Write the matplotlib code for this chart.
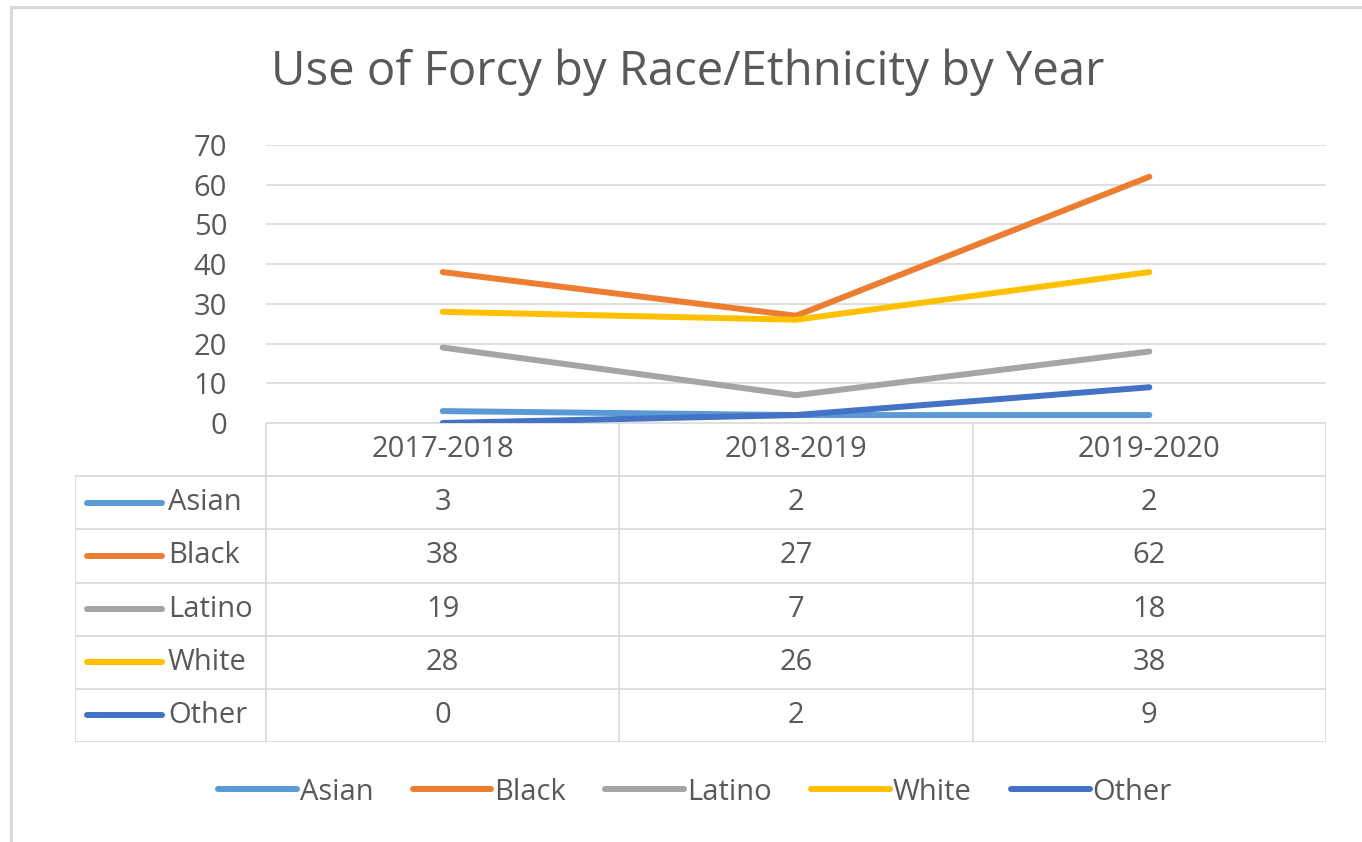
import matplotlib as mpl
import matplotlib.pyplot as plt
from matplotlib.lines import Line2D
from matplotlib.patches import Rectangle
mpl.use('agg')

years = ['2017-2018', '2018-2019', '2019-2020']
groups = ['Asian', 'Black', 'Latino', 'White', 'Other']
asian = [3, 2, 2]
black = [38, 27, 62]
latino = [19, 7, 18]
white = [28, 26, 38]
other = [0, 2, 9]
colors = ['#5B9BD5', '#ED7D31', '#A5A5A5', '#FFC000', '#4472C4']
series = [asian, black, latino, white, other]

txt = '#595959'
grid = '#D9D9D9'
fs = 21
plt.rcParams['font.family'] = ['Open Sans', 'DejaVu Sans']

W, H = 1362, 842
fig = plt.figure(figsize=(W / 100, H / 100), dpi=100)

# chart frame (cropped on the right and bottom)
fig.add_artist(Rectangle((11 / W, -0.1), 1.2, 1 - 7 / H + 0.1, transform=fig.transFigure,
                         fill=False, ec=grid, lw=2.2))

fig.text(688 / W, 1 - 72 / H, 'Use of Forcy by Race/Ethnicity by Year',
         ha='center', va='center', fontsize=34, color=txt)

# line chart
x0, x1, y0, y1 = 266, 1326, 145, 423
ax = fig.add_axes([x0 / W, 1 - y1 / H, (x1 - x0) / W, (y1 - y0) / H])
xs = list(range(len(years)))
for name, vals, c in zip(groups, series, colors):
    ax.plot(xs, vals, color=c, lw=4.3, solid_capstyle='round', label=name, zorder=3)
ax.set_xlim(-0.5, 2.5)
ax.set_ylim(0, 70)
ax.set_yticks(range(0, 71, 10))
ax.set_xticks([])
for s in ax.spines.values():
    s.set_visible(False)
ax.yaxis.grid(True, color=grid, lw=1.2)
ax.tick_params(axis='y', length=0, pad=28, labelsize=fs, labelcolor=txt)
ax.set_axisbelow(True)

# data table
unit = (x1 - x0) / 3
tl = 75
xl = -0.5 - (x0 - tl) / unit
tb = 742
tax = fig.add_axes([tl / W, 1 - tb / H, (x1 - tl) / W, (tb - y1) / H])
tax.set_xlim(xl, 2.5)
tax.set_ylim(6, 0)
tax.axis('off')
lw = 1.2
tax.plot([-0.5, 2.5], [0, 0], color=grid, lw=lw)
for r in range(1, 7):
    tax.plot([xl, 2.5], [r, r], color=grid, lw=lw)
for v in [-0.5, 0.5, 1.5, 2.5]:
    tax.plot([v, v], [0, 6], color=grid, lw=lw)
tax.plot([xl, xl], [1, 6], color=grid, lw=lw)
for i, y in enumerate(years):
    tax.text(i, 0.5, y, ha='center', va='center', fontsize=fs, color=txt)
for r, (name, vals, c) in enumerate(zip(groups, series, colors)):
    yc = r + 1.5
    tax.plot([xl + 12 / unit, xl + 87 / unit], [yc, yc], color=c, lw=4.3,
             solid_capstyle='round')
    tax.text(xl + 93 / unit, yc, name, ha='left', va='center', fontsize=fs, color=txt)
    for i, v in enumerate(vals):
        tax.text(i, yc, str(v), ha='center', va='center', fontsize=fs, color=txt)

handles = [Line2D([], [], color=c, lw=4.3, solid_capstyle='round') for c in colors]
fig.legend(handles, groups, loc='center', bbox_to_anchor=(695 / W, 1 - 792 / H), ncol=5,
           frameon=False, fontsize=fs, labelcolor=txt, handlelength=2.7,
           handletextpad=0.1, columnspacing=1.35)

plt.savefig('out.png', dpi=100)
